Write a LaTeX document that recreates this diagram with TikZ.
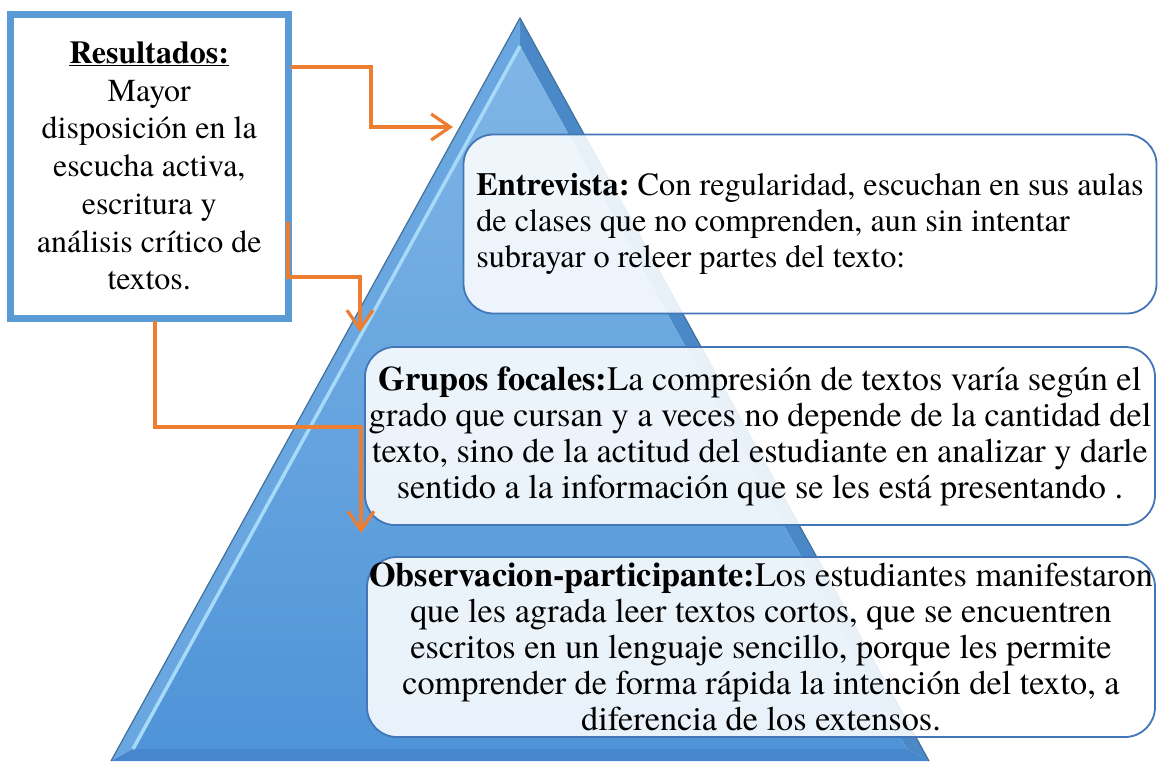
\documentclass[tikz,border=0pt]{standalone}
\usepackage{fontspec}
\setmainfont{texgyretermes}[Extension=.otf,UprightFont=*-regular,BoldFont=*-bold,ItalicFont=*-italic,BoldItalicFont=*-bolditalic]
\usetikzlibrary{arrows.meta}
\frenchspacing

\begin{document}
\begin{tikzpicture}[x=1pt,y=-1pt,
  caja/.style={draw=bordeCaja,line width=1.8pt,rounded corners=30pt,fill=white,fill opacity=0.88,text opacity=1,inner sep=0pt,font=\fontsize{34.3}{36}\selectfont},
  resultado/.style={draw=azul,line width=7pt,fill=white,inner sep=0pt,align=center,font=\fontsize{32}{37.7}\selectfont},
  flecha/.style={draw=naranja,line width=3.2pt,-{Straight Barb[length=19pt,width=26pt,line width=3.2pt]}}]
\definecolor{azul}{HTML}{5B9BD5}
\definecolor{bordeCaja}{HTML}{4276B8}
\definecolor{bordePiramide}{HTML}{41719C}
\definecolor{naranja}{HTML}{ED7D31}
\definecolor{caraSup}{HTML}{80B6E6}
\definecolor{caraInf}{HTML}{4F94D8}
\definecolor{biselIzq}{HTML}{6AA6DF}
\definecolor{biselDer}{HTML}{4A88C8}
\definecolor{biselInf}{HTML}{4686CC}
\definecolor{brillo}{HTML}{A7DAF8}
\useasboundingbox (0,0) rectangle (1158,761);
\clip (0,0) rectangle (1158,761);
% piramide
\coordinate (cima) at (520,18);
\coordinate (baseIzq) at (111,761);
\coordinate (baseDer) at (929,761);
\coordinate (cimaIn) at (520,46);
\coordinate (baseIzqIn) at (133,749);
\coordinate (baseDerIn) at (907,749);
\fill[biselIzq] (cima) -- (baseIzq) -- (baseIzqIn) -- (cimaIn) -- cycle;
\fill[biselDer] (cima) -- (cimaIn) -- (baseDerIn) -- (baseDer) -- cycle;
\fill[biselInf] (baseIzq) -- (baseDer) -- (baseDerIn) -- (baseIzqIn) -- cycle;
\shade[top color=caraSup,bottom color=caraInf] (cimaIn) -- (baseIzqIn) -- (baseDerIn) -- cycle;
\draw[brillo,line width=3.5pt] (baseIzqIn) -- (cimaIn);
\draw[bordePiramide,line width=1.2pt] (baseIzq) -- (cima) -- (baseDer);
% cajas de texto
\node[caja,minimum width=693pt,minimum height=179pt,align=left,font=\fontsize{32.3}{36}\selectfont] (entrevista) at (810,224)
  {\textbf{Entrevista:} Con regularidad, escuchan en sus aulas\\
   de clases que no comprenden, aun sin intentar\\
   subrayar o releer partes del texto:};
\node[caja,minimum width=790pt,minimum height=178pt,align=center] (grupos) at (760,436)
  {\textbf{Grupos focales:}La compresión de textos varía según el\\
   grado que cursan y a veces no depende de la cantidad del\\
   texto, sino de la actitud del estudiante en analizar y darle\\
   sentido a la información que se les está presentando .};
\node[caja,minimum width=788pt,minimum height=180pt,align=center] (observacion) at (761,647)
  {\textbf{Observacion-participante:}Los estudiantes manifestaron\\
   que les agrada leer textos cortos, que se encuentren\\
   escritos en un lenguaje sencillo, porque les permite\\
   comprender de forma rápida la intención del texto, a\\
   diferencia de los extensos.};
\node[resultado,minimum width=277.5pt,minimum height=304pt] (res) at (149.25,166)
  {\underline{\textbf{Resultados:}}\\ Mayor\\ disposición en la\\ escucha activa,\\
   escritura y\\ análisis crítico de\\ textos.};
% flechas
\coordinate (s1) at (291,67);
\coordinate (t1) at (453,127);
\coordinate (s2) at (288,222);
\coordinate (t2) at (360,332);
\coordinate (s3) at (155,321);
\coordinate (t3) at (361,533);
\draw[flecha] (s1) -- ++(80,0) |- (t1);
\draw[flecha] (s2) -- ++(0,55) -| (t2);
\draw[flecha] (s3) -- ++(0,106) -| (t3);
\end{tikzpicture}
\end{document}
